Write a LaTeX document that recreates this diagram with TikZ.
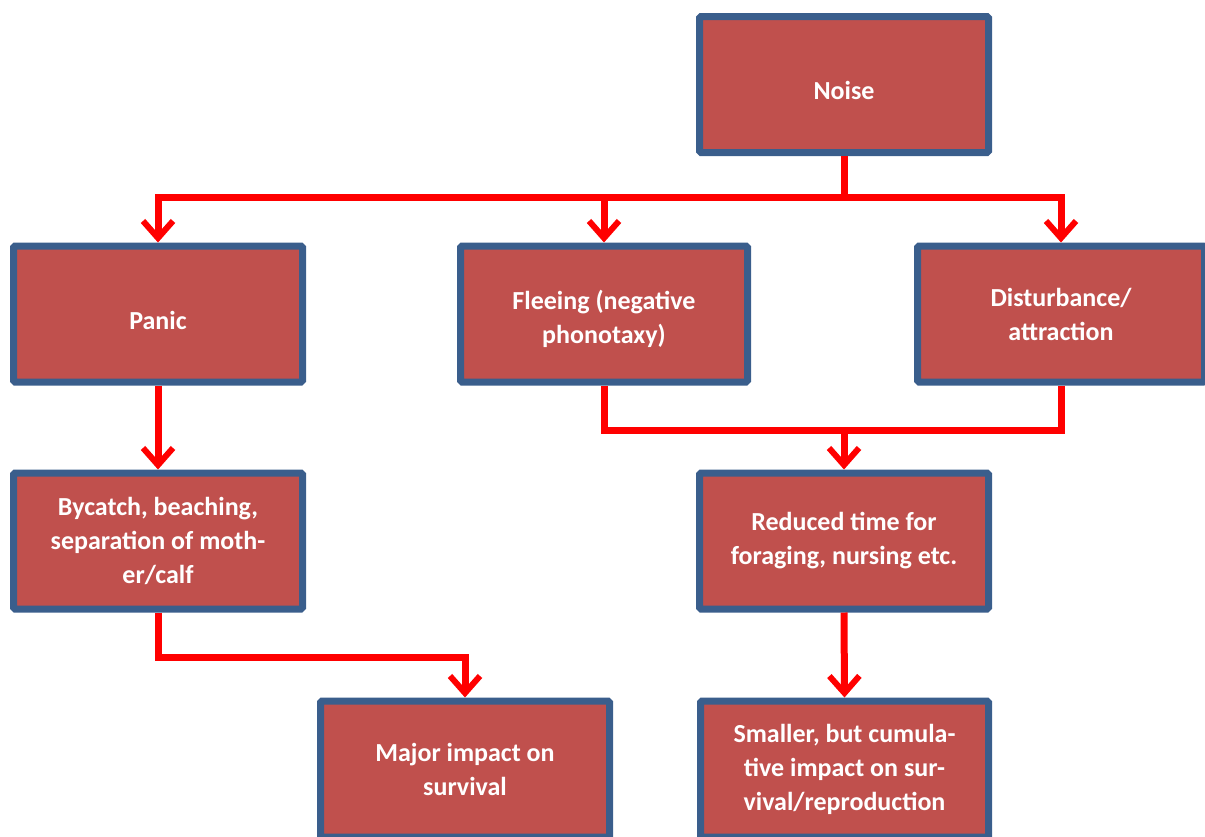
\documentclass[tikz,border=0pt]{standalone}
\usepackage{fontspec}
\setmainfont{Carlito}
\usetikzlibrary{arrows.meta}
\definecolor{boxfill}{HTML}{C0504D}
\definecolor{boxline}{HTML}{3A5E8C}
\definecolor{linkred}{HTML}{FF0000}
\newcommand{\lowered}[1]{\raisebox{-6pt}[\height][\depth]{#1}}
\tikzset{
  box/.style={draw=boxline, fill=boxfill, line width=7pt, minimum width=289pt, minimum height=136pt,
    text=white, align=center, font=\bfseries\fontsize{26}{34}\selectfont, inner sep=0pt, rounded corners=1.5pt},
  link/.style={draw=linkred, line width=7pt},
  arr/.style={link, -{Straight Barb[length=17pt, width=30pt, line width=6pt]}, line join=miter},
}
\begin{document}
\begin{tikzpicture}[x=1pt, y=-1pt]
\useasboundingbox (0,0) rectangle (1205,836);
\clip (0,0) rectangle (1205,836);
\node[box] (noise) at (844,84.5) {\lowered{Noise}};
\node[box] (panic) at (158,314) {\lowered{Panic}};
\node[box, minimum width=287pt] (flee) at (604,314) {\lowered{\begin{tabular}{@{}c@{}}Fleeing (negative\\phonotaxy)\end{tabular}}};
\node[box, minimum width=287pt] (dist) at (1061,314) {Disturbance/\\attraction};
\node[box] (bycatch) at (158,541) {Bycatch, beaching,\\separation of moth-\\er/calf};
\node[box] (reduced) at (844,541) {Reduced time for\\foraging, nursing etc.};
\node[box] (major) at (465,769) {Major impact on\\survival};
\node[box, minimum width=288pt] (smaller) at (844.5,769) {Smaller, but cumula-\\tive impact on sur-\\vival/reproduction};

\draw[link] (noise.south) -- (noise.south |- 0,197) coordinate (j1);
\draw[arr] (j1) -| (panic.north);
\draw[arr] (j1) -| (flee.north);
\draw[arr] (j1) -| (dist.north);

\draw[arr] (panic.south) -- (bycatch.north);

\draw[link, line join=miter] (flee.south) |- (reduced.north |- 0,430) coordinate (j2);
\draw[link, line join=miter] (dist.south) |- (j2);
\draw[arr] (j2) -- (reduced.north);

\draw[arr] (bycatch.south) |- (major.north |- 0,657) -- (major.north);
\draw[arr] (reduced.south) -- (smaller.north);
\end{tikzpicture}
\end{document}
